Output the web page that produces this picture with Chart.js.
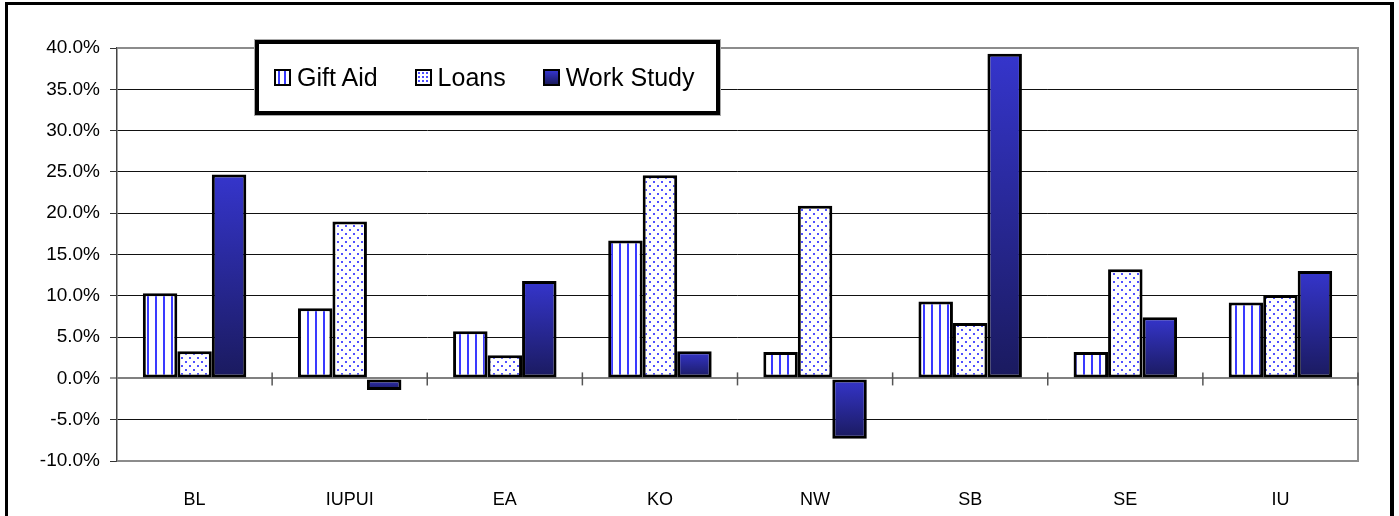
<!DOCTYPE html>
<html>
<head>
<meta charset="utf-8">
<script src="https://cdn.jsdelivr.net/npm/chart.js@4.4.0/dist/chart.umd.min.js"></script>
<style>
  html, body { margin: 0; padding: 0; background: #fff; overflow: hidden; }
  body { width: 1399px; height: 516px; position: relative; font-family: "Liberation Sans", Arial, sans-serif; }
  #frame { position: absolute; left: 5px; top: 2px; width: 1389px; height: 600px; box-sizing: border-box;
           border: 3px solid #000; border-right-width: 4px; }
  #chart { position: absolute; left: 0; top: 0; }
  #legend { position: absolute; left: 255px; top: 40px; width: 465px; height: 75px; box-sizing: border-box;
            border: 4px solid #000; background: #fff; box-shadow: 0 0 0 1px #aaa;
            display: flex; align-items: center; padding-left: 15px; gap: 37px; }
  .item { display: flex; align-items: center; font-size: 25px; color: #000; }
  .swatch { width: 17px; height: 17px; box-sizing: border-box; border: 2px solid #000; margin-right: 6px; }
  .sw-gift { background: repeating-linear-gradient(90deg, #fff 0px, #fff 2px, #3a3aff 2px, #3a3aff 4px, #fff 4px, #fff 6px); }
  .sw-loans { background-color: #fff; background-image: radial-gradient(circle, #4d4dff 0.9px, transparent 1.3px); background-size: 4px 4px; }
  .sw-work { background: linear-gradient(#3535cc, #1a1a5e); }
</style>
</head>
<body>
<div id="frame"></div>
<canvas id="chart" width="1399" height="516"></canvas>
<div id="legend"></div>
<script>
// values, in percent
const campuses = ['BL', 'IUPUI', 'EA', 'KO', 'NW', 'SB', 'SE', 'IU'];
const giftAid = [10.3, 8.5, 5.7, 16.7, 3.2, 9.3, 3.2, 9.2];
const loans = [3.3, 19.0, 2.8, 24.6, 20.9, 6.7, 13.2, 10.1];
const workStudy = [24.7, -1.4, 11.8, 3.3, -7.3, 39.3, 7.4, 13.0];
const seriesNames = ['Gift Aid', 'Loans', 'Work Study'];
const yMin = -10;
const yMax = 40;
const yStep = 5;

Chart.defaults.font.family = '"Liberation Sans", Arial, sans-serif';
Chart.defaults.color = '#000';

const swatchClass = ['sw-gift', 'sw-loans', 'sw-work'];
const legend = document.getElementById('legend');
seriesNames.forEach((name, i) => {
  const item = document.createElement('div');
  item.className = 'item';
  const sw = document.createElement('span');
  sw.className = 'swatch ' + swatchClass[i];
  item.appendChild(sw);
  item.appendChild(document.createTextNode(name));
  legend.appendChild(item);
});

const makeStripes = () => {
  const c = document.createElement('canvas');
  c.width = 8; c.height = 8;
  const g = c.getContext('2d');
  g.fillStyle = '#fff'; g.fillRect(0, 0, 8, 8);
  g.fillStyle = '#3a3aff'; g.fillRect(3, 0, 2, 8);
  return g.createPattern(c, 'repeat');
};

const makeDots = () => {
  const c = document.createElement('canvas');
  c.width = 8; c.height = 8;
  const g = c.getContext('2d');
  g.fillStyle = '#fff'; g.fillRect(0, 0, 8, 8);
  g.fillStyle = '#5050ff';
  g.fillRect(1, 1, 2, 2);
  g.fillRect(5, 5, 2, 2);
  return g.createPattern(c, 'repeat');
};

// gradient per bar, lighter at the top, darker at the bottom
const workFill = ctx => {
  const y = ctx.chart.scales.y;
  if (!y || ctx.type !== 'data') return '#2a2a99';
  const v = ctx.raw;
  const top = y.getPixelForValue(Math.max(v, 0));
  const bottom = y.getPixelForValue(Math.min(v, 0));
  if (!isFinite(top) || !isFinite(bottom) || top === bottom) return '#2a2a99';
  const grad = ctx.chart.ctx.createLinearGradient(0, top, 0, bottom);
  grad.addColorStop(0, '#3535cc');
  grad.addColorStop(1, '#1a1a5e');
  return grad;
};

const plotFrame = {
  id: 'plotFrame',
  afterDatasetsDraw(chart) {
    const { ctx, chartArea: a, scales: { x, y } } = chart;
    const y0 = y.getPixelForValue(0);
    ctx.save();
    ctx.strokeStyle = '#8c8c8c';
    ctx.lineWidth = 2;
    ctx.beginPath();
    ctx.moveTo(a.left, a.top);
    ctx.lineTo(a.right, a.top);
    ctx.lineTo(a.right, a.bottom);
    ctx.lineTo(a.left, a.bottom);
    ctx.stroke();
    // tick marks crossing the zero line between the campuses
    ctx.strokeStyle = '#555';
    ctx.lineWidth = 1.5;
    for (let i = 0; i < campuses.length; i++) {
      const bx = i < campuses.length - 1
        ? (x.getPixelForValue(i) + x.getPixelForValue(i + 1)) / 2
        : a.right;
      ctx.beginPath();
      ctx.moveTo(bx, y0 - 6);
      ctx.lineTo(bx, y0 + 7);
      ctx.stroke();
    }
    ctx.restore();
  }
};

const fills = [makeStripes(), makeDots(), workFill];
const values = [giftAid, loans, workStudy];

const chart = new Chart(document.getElementById('chart').getContext('2d'), {
  type: 'bar',
  data: {
    labels: campuses,
    datasets: seriesNames.map((name, i) => ({
      label: name,
      data: values[i],
      backgroundColor: fills[i],
      borderColor: '#000',
      borderWidth: 3,
      borderSkipped: false,
      categoryPercentage: 0.667,
      barPercentage: 1,
    })),
  },
  options: {
    responsive: false,
    animation: false,
    layout: { padding: { top: 48, right: 41, bottom: 0, left: 0 } },
    plugins: { legend: { display: false }, tooltip: { enabled: false } },
    scales: {
      x: {
        grid: { display: false },
        border: { display: false },
        ticks: { font: { size: 18 }, padding: 20, color: '#000' },
        afterFit: scale => { scale.height = 55; },
      },
      y: {
        min: yMin,
        max: yMax,
        ticks: {
          stepSize: yStep,
          font: { size: 19 },
          padding: 10,
          color: '#000',
          callback: v => v.toFixed(1) + '%',
        },
        grid: {
          color: c => (c.tick && c.tick.value === 0 ? '#808080' : '#111'),
          lineWidth: c => (c.tick && c.tick.value === 0 ? 2 : 1),
          tickColor: '#333',
          tickWidth: 1,
          tickLength: 7,
        },
        border: { color: '#444', width: 1.5 },
        afterFit: scale => { scale.width = 117; },
      },
    },
  },
  plugins: [plotFrame],
});
// redraw once the scales are laid out so every bar gets its own gradient
chart.update('none');
</script>
</body>
</html>
